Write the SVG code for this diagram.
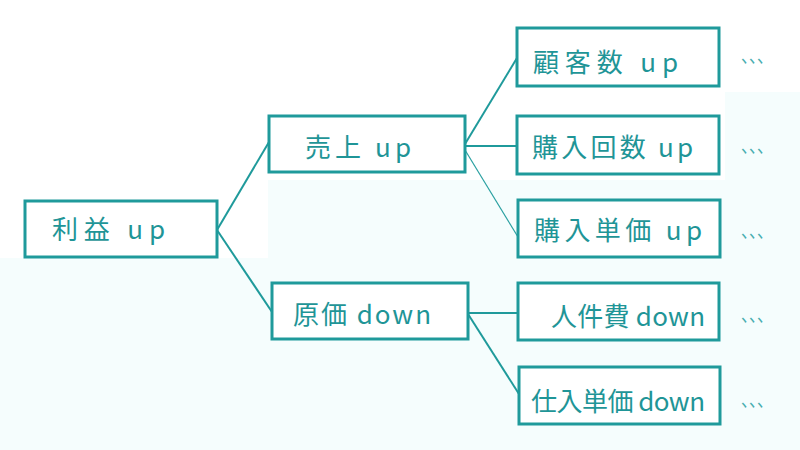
<svg xmlns="http://www.w3.org/2000/svg" width="800" height="450" viewBox="0 0 800 450">
  <style>
    .box { fill: #ffffff; stroke: #1f9a9b; stroke-width: 3; }
    .lbl { font-family: "Noto Sans CJK JP", "Noto Sans", sans-serif; font-size: 26px; fill: #1f9597; }
    .con { stroke: #1f9a9b; stroke-width: 2; fill: none; }
    .thin { stroke: #2aa0a1; stroke-width: 1.2; fill: none; }
    .dots { font-family: "Noto Sans CJK JP", sans-serif; font-size: 20px; fill: #48aeb0; }
  </style>
  <rect x="0" y="0" width="800" height="450" fill="#f5fdfd"/>
  <polygon points="0,0 800,0 800,92 725,92 725,180 268,180 268,258 0,258" fill="#ffffff"/>

  <g id="connectors">
    <line class="con" x1="217" y1="230" x2="269" y2="142"/>
    <line class="con" x1="217" y1="230" x2="272" y2="312"/>
    <line class="con" x1="465" y1="144" x2="517" y2="58"/>
    <line class="con" x1="465" y1="146" x2="517" y2="146"/>
    <line class="thin" x1="465" y1="150" x2="518" y2="237"/>
    <line class="con" x1="468" y1="313" x2="518" y2="313"/>
    <line class="con" x1="468" y1="314" x2="519" y2="394"/>
  </g>

  <g id="node-rieki">
    <rect class="box" x="25" y="201" width="192" height="56"/>
    <text class="lbl" x="52" y="239" textLength="113" lengthAdjust="spacing">利益 up</text>
  </g>
  <g id="node-uriage">
    <rect class="box" x="269" y="116" width="196" height="56"/>
    <text class="lbl" x="305" y="157" textLength="106" lengthAdjust="spacing">売上 up</text>
  </g>
  <g id="node-genka">
    <rect class="box" x="272" y="283" width="196" height="56"/>
    <text class="lbl" x="293" y="324" textLength="138" lengthAdjust="spacing">原価 down</text>
  </g>
  <g id="node-kokyakusu">
    <rect class="box" x="517" y="28" width="202" height="58"/>
    <text class="lbl" x="533" y="72" textLength="145" lengthAdjust="spacing">顧客数 up</text>
  </g>
  <g id="node-kounyukaisu">
    <rect class="box" x="517" y="116" width="202" height="58"/>
    <text class="lbl" x="532" y="157" textLength="161" lengthAdjust="spacing">購入回数 up</text>
  </g>
  <g id="node-kounyutanka">
    <rect class="box" x="518" y="200" width="202" height="57"/>
    <text class="lbl" x="534" y="240" textLength="168" lengthAdjust="spacing">購入単価 up</text>
  </g>
  <g id="node-jinkenhi">
    <rect class="box" x="518" y="283" width="201" height="57"/>
    <text class="lbl" x="551" y="326" textLength="154" lengthAdjust="spacing">人件費 down</text>
  </g>
  <g id="node-shiiretanka">
    <rect class="box" x="519" y="367" width="201" height="57"/>
    <text class="lbl" x="531" y="411" textLength="174" lengthAdjust="spacing">仕入単価 down</text>
  </g>

  <g id="ellipses">
    <text class="dots" x="741" y="63" textLength="32" lengthAdjust="spacingAndGlyphs">、、、</text>
    <text class="dots" x="741" y="153" textLength="32" lengthAdjust="spacingAndGlyphs">、、、</text>
    <text class="dots" x="741" y="238" textLength="32" lengthAdjust="spacingAndGlyphs">、、、</text>
    <text class="dots" x="741" y="322" textLength="32" lengthAdjust="spacingAndGlyphs">、、、</text>
    <text class="dots" x="741" y="407" textLength="32" lengthAdjust="spacingAndGlyphs">、、、</text>
  </g>
</svg>
